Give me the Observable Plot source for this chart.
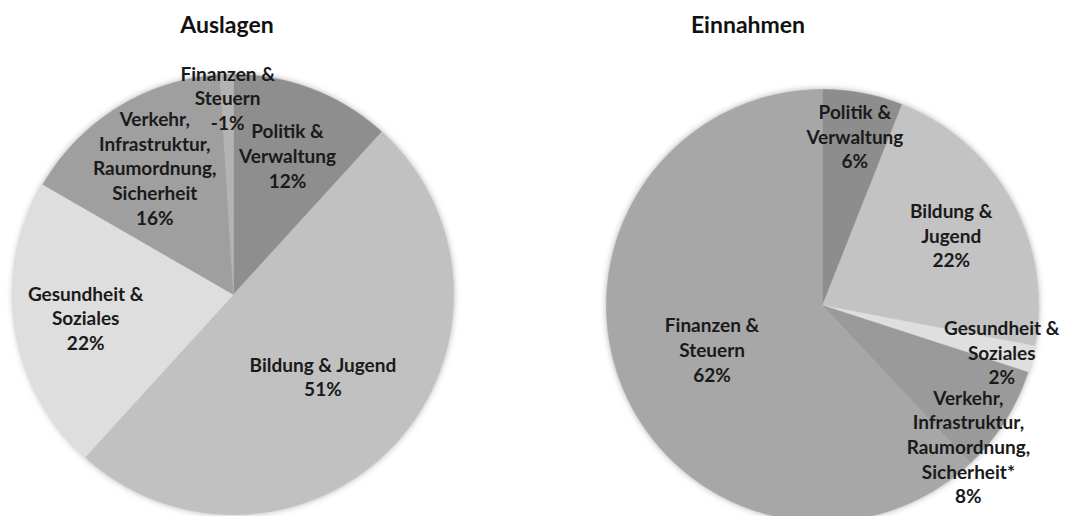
<!DOCTYPE html>
<html><head><meta charset="utf-8">
<script src="https://cdn.jsdelivr.net/npm/d3@7"></script>
<script src="https://cdn.jsdelivr.net/npm/@observablehq/plot@0.6"></script>
<style>
body{margin:0;background:#fff;font-family:Lato,"Open Sans",sans-serif;}
#wrap{position:relative;width:1067px;height:516px;overflow:hidden;}
.title{position:absolute;font-weight:bold;font-size:23px;color:#111;transform:translateX(-50%);top:10px;white-space:nowrap;font-family:Lato,sans-serif;}
.pie{position:absolute;}
.pie g[aria-label="line"]{filter:drop-shadow(0 0 3px rgba(0,0,0,0.3));}
</style></head><body><div id="wrap"></div>
<script>
// ---- data ----
const categories = ["Politik & Verwaltung", "Bildung & Jugend", "Gesundheit & Soziales", "Verkehr, Infrastruktur, Raumordnung, Sicherheit", "Finanzen & Steuern"];
const auslagenValues = [12, 51, 22, 16, -1];
const einnahmenValues = [6, 22, 2, 8, 62];
const auslagenLabels = ["Politik &\nVerwaltung", "Bildung & Jugend", "Gesundheit &\nSoziales", "Verkehr,\nInfrastruktur,\nRaumordnung,\nSicherheit", "Finanzen &\nSteuern"];
const einnahmenLabels = ["Politik &\nVerwaltung", "Bildung &\nJugend", "Gesundheit &\nSoziales", "Verkehr,\nInfrastruktur,\nRaumordnung,\nSicherheit*", "Finanzen &\nSteuern"];
const titles = ["Auslagen", "Einnahmen"];
// ---- styles ----
const auslagenColors = ["#8e8e8e", "#c1c1c1", "#dedede", "#9f9f9f", "#b3b3b3"];
const einnahmenColors = ["#8d8d8d", "#c3c3c3", "#dfdfdf", "#9a9a9a", "#a7a7a7"];
const FONT_SIZE = 19, LINE_H = 1.3;

const wrap = document.getElementById("wrap");
const ctx = document.createElement("canvas").getContext("2d");
ctx.font = `bold ${FONT_SIZE}px Lato`;

function labelFrac(v) {
  const a = Math.abs(v);
  if (a < 3) return 0.86;
  if (a < 10) return 0.8;
  if (a > 45) return 0.55;
  return 0.68;
}

function boxes(l) {
  const lines = l.text.split("\n");
  const n = lines.length, lh = FONT_SIZE * LINE_H, h = FONT_SIZE * 1.05;
  return lines.map((s, k) => {
    const w = ctx.measureText(s).width;
    const cy = l.py + (k - (n - 1) / 2) * lh;
    return [l.px - w / 2 - 2, l.px + w / 2 + 2, cy - h / 2, cy + h / 2];
  });
}
function overlap(a, b) {
  return a.some(p => b.some(q => p[0] < q[1] && q[0] < p[1] && p[2] < q[3] && q[2] < p[3]));
}

function pieChart({values, labels, colors, title, titleX, cx, cy, r, left, top, width, height}) {
  const arcs = d3.pie().sort(null).value(v => Math.abs(v)).startAngle(0).endAngle(2 * Math.PI)(values);
  const pts = [];
  const lab = [];
  arcs.forEach((a, i) => {
    pts.push({i, x: 0, y: 0});
    const n = Math.max(2, Math.ceil((a.endAngle - a.startAngle) / (Math.PI / 360)));
    for (let k = 0; k <= n; k++) {
      const t = a.startAngle + (a.endAngle - a.startAngle) * k / n;
      pts.push({i, x: Math.sin(t), y: Math.cos(t)});
    }
    pts.push({i, x: 0, y: 0});
    const m = (a.startAngle + a.endAngle) / 2;
    const f = labelFrac(values[i]);
    lab.push({x: f * Math.sin(m), y: f * Math.cos(m), text: labels[i] + "\n" + values[i] + "%"});
  });
  // keep labels inside the drawing area, then avoid collisions (pixel space relative to pie centre)
  const minX = left - cx + 4, maxX = left + width - cx - 6;
  lab.forEach(l => {
    l.px = l.x * r; l.py = -l.y * r;
    const bx = boxes(l);
    const lo = Math.min(...bx.map(b => b[0])), hi = Math.max(...bx.map(b => b[1]));
    if (hi > maxX) l.px -= hi - maxX;
    if (lo < minX) l.px += minX - lo;
  });
  for (let i = 1; i < lab.length; i++) {
    for (let it = 0; it < 200; it++) {
      const bi = boxes(lab[i]);
      const hit = lab.slice(0, i).find(o => overlap(bi, boxes(o)));
      if (!hit) break;
      lab[i].py += lab[i].py >= hit.py ? 2 : -2;
    }
  }
  lab.forEach(l => { l.x = l.px / r; l.y = -l.py / r; });

  const plot = Plot.plot({
    width, height, margin: 0,
    x: {domain: [-(cx - left) / r, (left + width - cx) / r], axis: null},
    y: {domain: [-(top + height - cy) / r, (cy - top) / r], axis: null},
    color: {type: "identity"},
    style: {fontFamily: "Lato, sans-serif", background: "transparent"},
    marks: [
      Plot.line(pts, {x: "x", y: "y", z: "i", fill: d => colors[d.i], stroke: d => colors[d.i], strokeWidth: 0.6, curve: "linear"}),
      Plot.text(lab, {x: "x", y: "y", text: "text", fontSize: FONT_SIZE, fontWeight: "bold", lineHeight: LINE_H, fill: "#1a1a1a", fontFamily: "Lato, sans-serif"})
    ]
  });
  plot.classList.add("pie");
  plot.style.left = left + "px";
  plot.style.top = top + "px";
  wrap.appendChild(plot);
  const t = document.createElement("div");
  t.className = "title";
  t.textContent = title;
  t.style.left = titleX + "px";
  wrap.appendChild(t);
}

pieChart({values: auslagenValues, labels: auslagenLabels, colors: auslagenColors, title: titles[0], titleX: 227,
  cx: 233, cy: 294, r: 220, left: 0, top: 40, width: 470, height: 476});
pieChart({values: einnahmenValues, labels: einnahmenLabels, colors: einnahmenColors, title: titles[1], titleX: 748,
  cx: 822, cy: 305, r: 216, left: 590, top: 40, width: 477, height: 476});
</script>
</body></html>
